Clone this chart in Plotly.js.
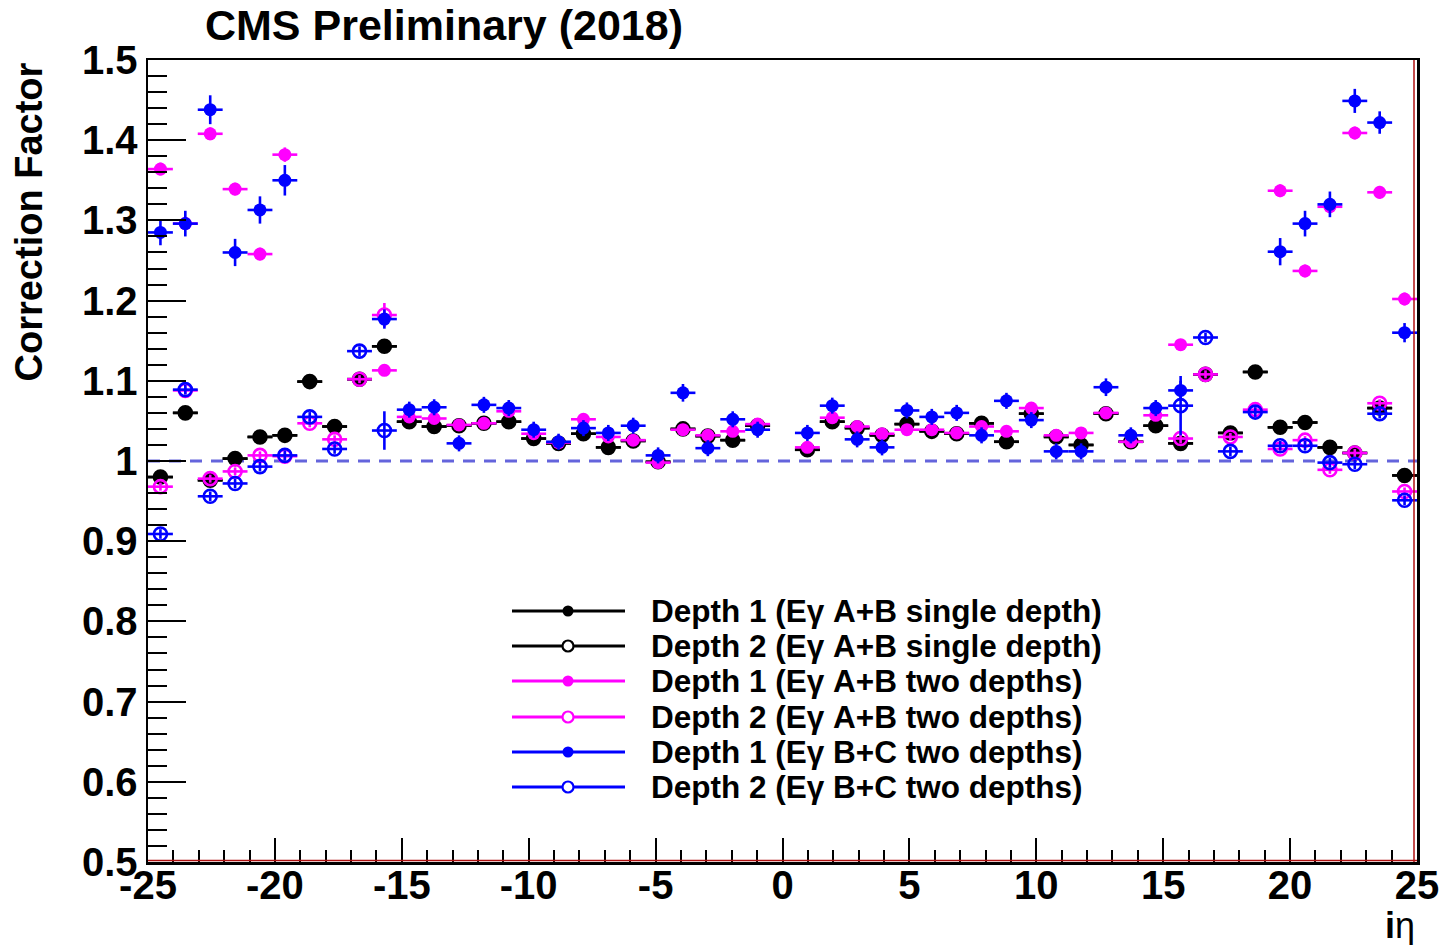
<!DOCTYPE html>
<html>
<head>
<meta charset="utf-8">
<script src="https://cdn.plot.ly/plotly-3.0.1.min.js"></script>
<style>
  html, body { margin: 0; padding: 0; background: #ffffff; }
  #chart { width: 1445px; height: 945px; }
</style>
</head>
<body>
<div id="chart"></div>
<script>
// iEta towers (no tower at 0)
const ieta = [-25, -24, -23, -22, -21, -20, -19, -18, -17, -16, -15, -14, -13, -12, -11, -10, -9, -8, -7, -6, -5, -4, -3, -2, -1,
              1, 2, 3, 4, 5, 6, 7, 8, 9, 10, 11, 12, 13, 14, 15, 16, 17, 18, 19, 20, 21, 22, 23, 24, 25];

// Correction factors, Eγ A+B, single depth (depth 1 and depth 2 share one factor)
const depth1Single = [0.980, 1.060, 0.976, 1.003, 1.030, 1.032, 1.099, 1.043, 1.102, 1.143, 1.049, 1.043, 1.044, 1.047, 1.049, 1.028, 1.022, 1.034, 1.017, 1.025, 0.999, 1.040, 1.031, 1.026, 1.044,
                      1.014, 1.049, 1.041, 1.032, 1.046, 1.037, 1.034, 1.047, 1.024, 1.059, 1.030, 1.020, 1.059, 1.024, 1.044, 1.022, 1.108, 1.035, 1.111, 1.042, 1.048, 1.017, 1.010, 1.066, 0.982];
const depth2Single = depth1Single;
const errSingle = [0.003, 0.003, 0.003, 0.003, 0.003, 0.003, 0.003, 0.003, 0.003, 0.004, 0.003, 0.003, 0.003, 0.003, 0.003, 0.003, 0.003, 0.003, 0.003, 0.003, 0.003, 0.003, 0.003, 0.003, 0.003,
                   0.003, 0.003, 0.003, 0.003, 0.003, 0.003, 0.003, 0.003, 0.003, 0.003, 0.003, 0.003, 0.003, 0.003, 0.003, 0.003, 0.003, 0.003, 0.003, 0.003, 0.003, 0.003, 0.003, 0.003, 0.003];

// Eγ A+B, two depths
const depth1AB = [1.364, 1.296, 1.408, 1.339, 1.258, 1.382, null, null, null, 1.113, 1.055, 1.053, 1.045, 1.047, 1.062, 1.034, 1.023, 1.052, 1.030, 1.026, 0.998, 1.039, 1.032, 1.037, 1.046,
                  1.017, 1.054, 1.043, 1.034, 1.039, 1.039, 1.035, 1.043, 1.037, 1.066, 1.032, 1.035, 1.060, 1.024, 1.057, 1.145, null, null, null, 1.337, 1.237, 1.317, 1.409, 1.335, 1.202];
const errDepth1AB = [0.008, 0.008, 0.008, 0.008, 0.008, 0.009, null, null, null, 0.006, 0.005, 0.005, 0.005, 0.005, 0.005, 0.005, 0.005, 0.005, 0.005, 0.005, 0.005, 0.005, 0.005, 0.005, 0.005,
                     0.005, 0.005, 0.005, 0.005, 0.005, 0.005, 0.005, 0.005, 0.005, 0.005, 0.005, 0.005, 0.005, 0.005, 0.005, 0.006, null, null, null, 0.008, 0.008, 0.008, 0.008, 0.008, 0.008];
const depth2AB = [0.968, 1.088, 0.978, 0.987, 1.007, 1.006, 1.047, 1.027, 1.102, 1.182, null, null, null, null, null, null, null, null, null, null, null, null, null, null, null,
                  null, null, null, null, null, null, null, null, null, null, null, null, null, null, null, 1.028, 1.108, 1.030, 1.064, 1.015, 1.026, 0.989, 1.010, 1.072, 0.962];
const errDepth2AB = [0.005, 0.005, 0.005, 0.005, 0.005, 0.005, 0.005, 0.005, 0.005, 0.015, null, null, null, null, null, null, null, null, null, null, null, null, null, null, null,
                     null, null, null, null, null, null, null, null, null, null, null, null, null, null, null, 0.006, 0.005, 0.005, 0.005, 0.005, 0.005, 0.005, 0.005, 0.005, 0.005];

// Eγ B+C, two depths
const depth1BC = [1.285, 1.296, 1.438, 1.260, 1.313, 1.350, null, null, null, 1.177, 1.064, 1.067, 1.022, 1.070, 1.066, 1.039, 1.024, 1.041, 1.035, 1.044, 1.007, 1.085, 1.016, 1.052, 1.039,
                  1.035, 1.069, 1.027, 1.017, 1.063, 1.055, 1.060, 1.032, 1.075, 1.051, 1.012, 1.012, 1.092, 1.032, 1.066, 1.088, null, null, null, 1.261, 1.296, 1.320, 1.449, 1.422, 1.160];
const errDepth1BC = [0.016, 0.016, 0.018, 0.017, 0.017, 0.019, null, null, null, 0.012, 0.010, 0.010, 0.010, 0.010, 0.010, 0.010, 0.010, 0.010, 0.010, 0.010, 0.010, 0.011, 0.010, 0.010, 0.010,
                     0.010, 0.010, 0.010, 0.010, 0.010, 0.010, 0.010, 0.010, 0.010, 0.010, 0.010, 0.010, 0.011, 0.010, 0.010, 0.012, null, null, null, 0.017, 0.016, 0.016, 0.015, 0.014, 0.012];
const depth2BC = [0.909, 1.089, 0.956, 0.972, 0.993, 1.007, 1.055, 1.015, 1.137, 1.038, null, null, null, null, null, null, null, null, null, null, null, null, null, null, null,
                  null, null, null, null, null, null, null, null, null, null, null, null, null, null, null, 1.069, 1.154, 1.012, 1.061, 1.019, 1.019, 0.998, 0.996, 1.059, 0.951];
const errDepth2BC = [0.006, 0.006, 0.006, 0.006, 0.006, 0.006, 0.006, 0.006, 0.006, 0.024, null, null, null, null, null, null, null, null, null, null, null, null, null, null, null,
                     null, null, null, null, null, null, null, null, null, null, null, null, null, null, null, 0.037, 0.006, 0.006, 0.006, 0.006, 0.006, 0.006, 0.006, 0.006, 0.006];

const legendLabels = [
  'Depth 1 (Eγ A+B single depth)',
  'Depth 2 (Eγ A+B single depth)',
  'Depth 1 (Eγ A+B two depths)',
  'Depth 2 (Eγ A+B two depths)',
  'Depth 1 (Eγ B+C two depths)',
  'Depth 2 (Eγ B+C two depths)'
];

const yTickVals = [0.5, 0.6, 0.7, 0.8, 0.9, 1.0, 1.1, 1.2, 1.3, 1.4, 1.5];
const yTickText = ['0.5', '0.6', '0.7', '0.8', '0.9', '1', '1.1', '1.2', '1.3', '1.4', '1.5'];
const xTickVals = [-25, -20, -15, -10, -5, 0, 5, 10, 15, 20, 25];
const xTickText = ['-25', '-20', '-15', '-10', '-5', '0', '5', '10', '15', '20', '25'];

// 51 bins spanning [-25, 25]: the point for a tower sits at its bin centre
const X_MIN = -25, X_MAX = 25, N_BINS = 51;
const binW = (X_MAX - X_MIN) / N_BINS;
const xCentre = ieta.map(e => X_MIN + (e - X_MIN + 0.5) * binW);

const BLACK = '#000000', MAGENTA = '#ff00ff', BLUE = '#0000ff';
const FONT = 'Liberation Sans, Arial, Helvetica, sans-serif';

function series(name, y, err, color, open) {
  return {
    type: 'scatter', mode: 'markers', name: name,
    x: xCentre, y: y,
    cliponaxis: true,
    marker: open
      ? { symbol: 'circle-open', size: 13, color: color, line: { color: color, width: 2.6 } }
      : { symbol: 'circle', size: 13, color: color, line: { width: 0 } },
    error_x: { type: 'constant', value: binW / 2, width: 0, thickness: 2.6, color: color },
    error_y: { type: 'data', array: err, symmetric: true, width: 0, thickness: 2.6, color: color },
    hoverinfo: 'x+y'
  };
}

const traces = [
  series(legendLabels[0], depth1Single, errSingle, BLACK, false),
  series(legendLabels[1], depth2Single, errSingle, BLACK, true),
  series(legendLabels[2], depth1AB, errDepth1AB, MAGENTA, false),
  series(legendLabels[3], depth2AB, errDepth2AB, MAGENTA, true),
  series(legendLabels[4], depth1BC, errDepth1BC, BLUE, false),
  series(legendLabels[5], depth2BC, errDepth2BC, BLUE, true)
];

// plot frame in pixels
const M = { l: 148, r: 28, t: 60, b: 83 };
const PW = 1445 - M.l - M.r, PH = 945 - M.t - M.b;
const px = x => (x - M.l) / PW;
const py = y => (945 - M.b - y) / PH;

const shapes = [
  // reference line at 1
  { type: 'line', xref: 'x', yref: 'y', x0: X_MIN, x1: X_MAX, y0: 1, y1: 1,
    line: { color: '#6464dc', width: 3, dash: '12px,9px' }, layer: 'below' },
  // histogram outline along the frame edges
  { type: 'line', xref: 'paper', yref: 'paper', x0: 0, x1: 1, y0: 1.5 / PH, y1: 1.5 / PH,
    line: { color: '#b01010', width: 1.5 } },
  { type: 'line', xref: 'paper', yref: 'paper', x0: 1 - 3 / PW, x1: 1 - 3 / PW, y0: 0, y1: 1,
    line: { color: '#b01010', width: 1.5 } }
];

const annotations = [
  { text: '<b>CMS Preliminary (2018)</b>', xref: 'paper', yref: 'paper', x: px(203), y: py(25),
    xanchor: 'left', yanchor: 'middle', showarrow: false, font: { family: FONT, size: 43, color: '#000' } },
  { text: '<b>Correction Factor</b>', xref: 'paper', yref: 'paper', x: px(28), y: py(61),
    xanchor: 'center', yanchor: 'top', textangle: -90, showarrow: false, font: { family: FONT, size: 38, color: '#000' } },
  { text: '<b>i</b>η', xref: 'paper', yref: 'paper', x: px(1400), y: py(925),
    xanchor: 'center', yanchor: 'middle', showarrow: false, font: { family: FONT, size: 36, color: '#000' } }
];

// legend block
const legendRows = [611, 646, 681, 717, 752, 787];
const legendStyle = [[BLACK, false], [BLACK, true], [MAGENTA, false], [MAGENTA, true], [BLUE, false], [BLUE, true]];
legendRows.forEach((row, i) => {
  const [c, open] = legendStyle[i];
  shapes.push({ type: 'line', xref: 'paper', yref: 'paper', x0: px(512), x1: px(625), y0: py(row), y1: py(row),
                line: { color: c, width: 3 } });
  const r = 5.5;
  shapes.push({ type: 'circle', xref: 'paper', yref: 'paper', x0: px(568 - r), x1: px(568 + r), y0: py(row + r), y1: py(row - r),
                fillcolor: open ? '#ffffff' : c, line: { color: c, width: open ? 2.2 : 0 } });
  annotations.push({ text: '<b>' + legendLabels[i] + '</b>', xref: 'paper', yref: 'paper', x: px(649), y: py(row),
                     xanchor: 'left', yanchor: 'middle', showarrow: false, font: { family: FONT, size: 31.5, color: '#000' } });
});

const layout = {
  width: 1445, height: 945,
  margin: M,
  paper_bgcolor: '#ffffff', plot_bgcolor: '#ffffff',
  showlegend: false,
  font: { family: FONT, color: '#000' },
  xaxis: {
    range: [X_MIN, X_MAX], tickvals: xTickVals, ticktext: xTickText,
    ticks: 'inside', ticklen: 24, tickwidth: 2, tickcolor: '#000',
    ticklabelstandoff: -14,
    minor: { dtick: 1, ticks: 'inside', ticklen: 12, tickwidth: 2, tickcolor: '#000' },
    showgrid: false, zeroline: false,
    showline: true, linecolor: '#000', linewidth: 2.5, mirror: true,
    tickfont: { family: FONT, size: 40, color: '#000', weight: 'bold' }
  },
  yaxis: {
    range: [0.5, 1.5], tickvals: yTickVals, ticktext: yTickText,
    ticks: 'inside', ticklen: 38, tickwidth: 2, tickcolor: '#000',
    minor: { dtick: 0.02, ticks: 'inside', ticklen: 19, tickwidth: 2, tickcolor: '#000' },
    showgrid: false, zeroline: false,
    showline: true, linecolor: '#000', linewidth: 2.5, mirror: true,
    tickfont: { family: FONT, size: 40, color: '#000', weight: 'bold' }
  },
  shapes: shapes,
  annotations: annotations
};

Plotly.newPlot('chart', traces, layout, { displayModeBar: false, staticPlot: true });
</script>
</body>
</html>
